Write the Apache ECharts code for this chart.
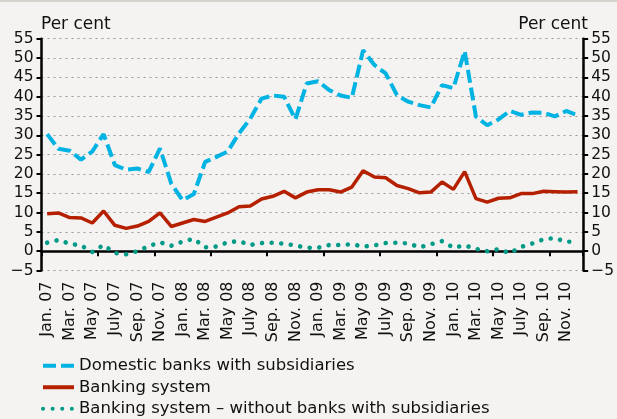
<!DOCTYPE html>
<html>
<head>
<meta charset="utf-8">
<script src="https://cdn.jsdelivr.net/npm/echarts@6/dist/echarts.min.js"></script>
<style>
  html, body { margin: 0; padding: 0; background: #f4f3f1; }
  #chart { width: 617px; height: 419px; }
</style>
</head>
<body>
<div id="chart"></div>
<script>
// Monthly observations, January 2007 - December 2010
const monthNames = ['Jan.', 'Feb.', 'Mar.', 'Apr.', 'May', 'June', 'July', 'Aug.', 'Sep.', 'Oct.', 'Nov.', 'Dec.'];
const years = ['07', '08', '09', '10'];
const categories = [];
years.forEach(y => monthNames.forEach(m => categories.push(m + ' ' + y)));

const domesticWithSubs = [
  30.3, 26.5, 26.0, 23.7, 25.8, 30.3, 22.3, 21.1, 21.4, 20.5, 26.6, 17.5,
  13.2, 14.8, 23.1, 24.4, 25.8, 30.5, 34.3, 39.5, 40.3, 40.0, 34.1, 43.4,
  44.0, 41.7, 40.3, 39.7, 52.0, 48.2, 46.0, 40.4, 38.7, 37.8, 37.2, 43.0,
  42.2, 51.8, 34.8, 32.6, 34.1, 36.3, 35.3, 35.9, 35.8, 34.9, 36.3, 35.2
];
const bankingSystem = [
  9.7, 9.9, 8.7, 8.6, 7.3, 10.4, 6.7, 5.9, 6.5, 7.7, 9.9, 6.4,
  7.3, 8.2, 7.7, 8.8, 9.9, 11.5, 11.7, 13.5, 14.2, 15.5, 13.8, 15.3,
  15.9, 15.9, 15.3, 16.6, 20.8, 19.2, 19.0, 17.0, 16.2, 15.1, 15.3, 17.9,
  16.0, 20.6, 13.6, 12.7, 13.7, 13.8, 14.9, 14.9, 15.5, 15.4, 15.3, 15.4
];
const bankingWithoutSubs = [
  2.2, 2.9, 1.9, 1.5, -0.2, 1.6, -0.5, -0.8, 0.0, 1.3, 2.3, 1.4,
  2.5, 3.2, 1.0, 1.2, 2.3, 2.6, 1.6, 2.1, 2.2, 1.9, 1.5, 0.9,
  0.9, 1.6, 1.6, 1.8, 1.2, 1.5, 2.1, 2.2, 2.0, 1.0, 1.8, 2.6,
  0.9, 1.5, 0.6, 0.0, 0.5, -0.5, 1.1, 2.0, 3.1, 3.4, 2.4, 2.6
];
const seriesNames = [
  'Domestic banks with subsidiaries',
  'Banking system',
  'Banking system \u2013 without banks with subsidiaries'
];
const unitLabel = 'Per cent';

const FONT = 'DejaVu Sans';
const BLUE = '#00b3e3', RED = '#b52000', TEAL = '#009a86';
const chart = echarts.init(document.getElementById('chart'), null, { renderer: 'canvas' });

const valueAxisBase = {
  type: 'value',
  min: -5,
  max: 55,
  interval: 5,
  axisLine: { show: true, lineStyle: { color: '#000', width: 2.5 } },
  axisTick: { show: true, length: 5, lineStyle: { color: '#000', width: 2 } },
  axisLabel: {
    color: '#111', fontFamily: FONT, fontSize: 15.5, margin: 8,
    formatter: v => String(v).replace('-', '\u2212')
  }
};

chart.setOption({
  backgroundColor: '#f4f3f1',
  animation: false,
  grid: { left: 41.5, right: 29, top: 38.7, bottom: 148.5, containLabel: false },
  graphic: [
    { type: 'rect', left: 0, top: 0, shape: { width: 617, height: 2 }, style: { fill: '#d6d3cf' } },
    { type: 'text', left: 41, top: 16, style: { text: unitLabel, fill: '#111', font: '17px "' + FONT + '"' } },
    { type: 'text', right: 29, top: 16, style: { text: unitLabel, fill: '#111', font: '17px "' + FONT + '"', textAlign: 'right' } }
  ],
  legend: {
    orient: 'vertical',
    left: 41,
    top: 356,
    padding: 0,
    height: 63,
    itemWidth: 31,
    itemHeight: 14,
    itemGap: 2,
    itemStyle: { opacity: 0 },
    lineStyle: { width: 4 },
    textStyle: { color: '#111', fontFamily: FONT, fontSize: 16.5, lineHeight: 19.5 },
    data: seriesNames
  },
  xAxis: [
    {
      type: 'category',
      data: categories,
      boundaryGap: true,
      position: 'bottom',
      axisLine: { onZero: true, lineStyle: { color: '#000', width: 2.5 } },
      axisTick: { show: true, length: 5, lineStyle: { color: '#000', width: 2 } },
      axisLabel: { show: false },
      splitLine: { show: false }
    },
    {
      type: 'category',
      data: categories,
      boundaryGap: true,
      position: 'bottom',
      axisLine: { show: false, onZero: false },
      axisTick: { show: false },
      axisLabel: { rotate: 90, interval: 1, margin: 11, color: '#111', fontFamily: FONT, fontSize: 16 },
      splitLine: { show: false }
    }
  ],
  yAxis: [
    Object.assign({}, valueAxisBase, {
      position: 'left',
      splitLine: { show: true, lineStyle: { color: '#9a9a9a', width: 1.2, type: [2, 4] } }
    }),
    Object.assign({}, valueAxisBase, {
      position: 'right',
      splitLine: { show: false }
    })
  ],
  series: [
    {
      name: seriesNames[2],
      type: 'line',
      data: bankingWithoutSubs,
      symbol: 'none',
      z: 2,
      lineStyle: { color: TEAL, width: 4.6, type: [0.01, 9.6], cap: 'round' },
      itemStyle: { color: TEAL }
    },
    {
      name: seriesNames[1],
      type: 'line',
      data: bankingSystem,
      symbol: 'none',
      z: 3,
      lineStyle: { color: RED, width: 3.5, type: 'solid' },
      itemStyle: { color: RED }
    },
    {
      name: seriesNames[0],
      type: 'line',
      data: domesticWithSubs,
      symbol: 'none',
      z: 4,
      lineStyle: { color: BLUE, width: 4, type: [13, 5] },
      itemStyle: { color: BLUE }
    }
  ]
});
</script>
</body>
</html>
